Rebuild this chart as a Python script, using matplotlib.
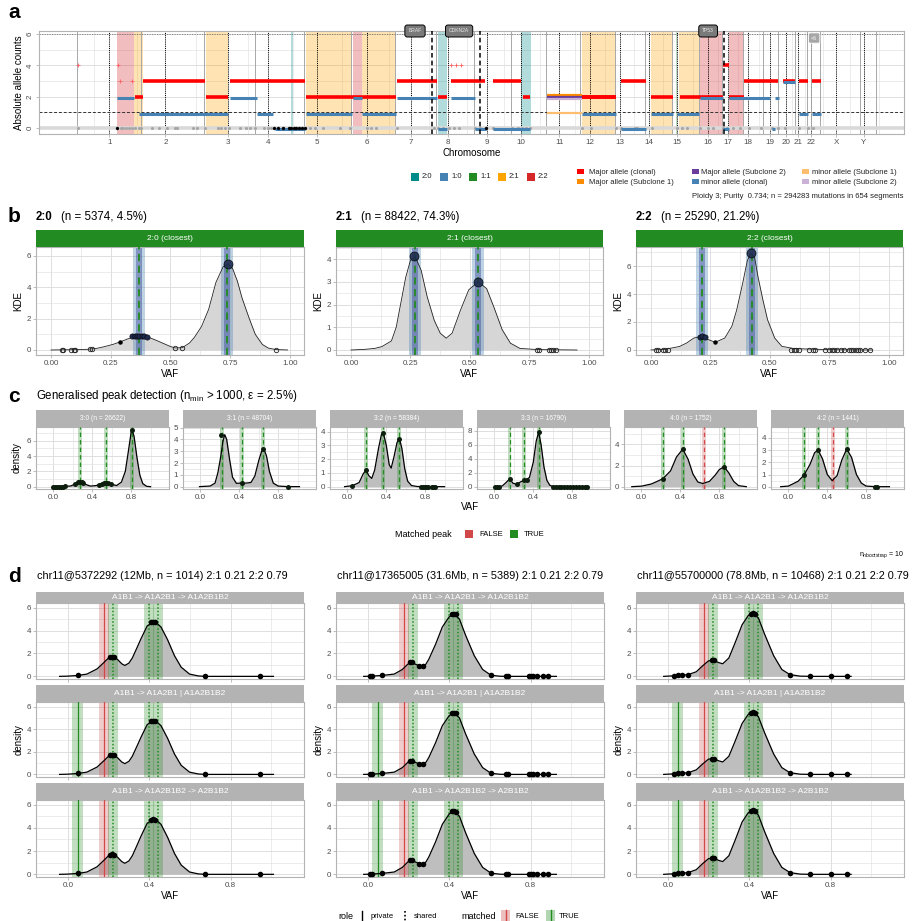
import numpy as np
import matplotlib
matplotlib.use('Agg')
import matplotlib.pyplot as plt
from matplotlib.patches import Rectangle
from matplotlib.lines import Line2D
from matplotlib.ticker import FixedLocator

plt.rcParams['font.family'] = ['Liberation Sans', 'DejaVu Sans']
plt.rcParams['mathtext.fontset'] = 'custom'
plt.rcParams['mathtext.rm'] = 'Liberation Sans'
plt.rcParams['mathtext.it'] = 'Liberation Sans:italic'

# ------------------------------------------------------------------ data: panel a
chrom_names = [str(i) for i in range(1, 23)] + ['X', 'Y']
chrom_len = [249.3, 243.2, 198.0, 191.2, 180.9, 171.1, 159.1, 146.4, 141.2, 135.5, 135.0, 133.9,
             115.2, 107.3, 102.5, 90.4, 81.2, 78.1, 59.1, 63.0, 48.1, 51.3, 155.3, 59.4]
centromere = [125.0, 93.3, 91.0, 50.4, 48.4, 61.0, 59.9, 45.6, 49.0, 40.2, 53.7, 35.8,
              17.9, 17.6, 19.0, 36.6, 24.0, 17.2, 26.5, 27.5, 13.2, 14.7, 60.6, 12.5]

major_start = [225, 256, 500, 593, 888, 1240, 1399, 1450, 1612, 1729, 1957, 2109, 2225, 2337, 2504, 2527, 2585, 2736, 2798, 2849]
major_end   = [256, 496, 585, 884, 1236, 1395, 1434, 1581, 1721, 1756, 2089, 2205, 2310, 2504, 2527, 2585, 2717, 2783, 2833, 2884]
major_cn    = [2, 3, 2, 3, 2, 3, 2, 3, 3, 2, 2, 3, 2, 2, 4, 2, 3, 3, 3, 3]

minor_start = [155, 240, 593, 698, 767, 888, 1070, 1105, 1240, 1399, 1450, 1543, 1612, 1957, 2109, 2225, 2326, 2415, 2504, 2527, 2694, 2705, 2736, 2798, 2849]
minor_end   = [221, 585, 698, 760, 884, 1066, 1105, 1236, 1395, 1434, 1543, 1585, 1756, 2089, 2205, 2310, 2411, 2504, 2527, 2686, 2705, 2721, 2783, 2833, 2884]
minor_cn    = [1.9, 0.9, 1.9, 0.9, -0.1, 0.9, 1.9, 0.9, 1.9, -0.1, 1.9, -0.1, -0.1, 0.9, -0.1, 0.9, 0.9, 1.9, -0.1, 1.9, -0.1, 1.9, 2.9, 0.9, 0.9]

subclone_seg = (1822, 1957)
subclone_labels = ['Major allele (Subclone 1)', 'Major allele (Subclone 2)', 'minor allele (Subclone 2)', 'minor allele (Subclone 1)']
subclone_cn = [2.07, 1.95, 1.82, 0.97]

kary_names = ['2:0', '1:0', '1:1', '2:1', '2:2']
kary_colors = ['#008B8B', '#4682B4', '#228B22', '#FFA500', '#D62728']
kary_seg_start = [155, 221, 500, 830, 888, 1070, 1105, 1399, 1721, 1957, 2225, 2320, 2333, 2411, 2527]
kary_seg_end   = [221, 256, 585, 837, 1066, 1105, 1236, 1434, 1760, 2089, 2310, 2326, 2411, 2504, 2585]
kary_seg_type  = ['2:2', '2:1', '2:1', '2:0', '2:1', '2:2', '2:1', '2:0', '2:0', '2:1', '2:1', '1:1', '2:1', '2:2', '2:2']

grey_mut_pos = [4, 170, 180, 190, 200, 212, 225, 240, 250, 290, 318, 349, 380, 388, 450, 465, 496, 545, 560, 575, 590,
                632, 655, 671, 690, 725, 740, 752, 798, 825, 903, 922, 953, 1019, 1058, 1125, 1140, 1160, 1240,
                1385, 1400, 1420, 1440, 1460, 1480, 1543, 1562, 1612, 1686, 1709, 1725, 1740, 1756, 1957, 1992,
                2089, 2109, 2163, 2171, 2229, 2326, 2345, 2364, 2415, 2445, 2465, 2504, 2519, 2543, 2570, 2605,
                2651, 2694, 2717, 2744, 2798, 2833, 2852]
black_mut_pos = [155, 765, 780, 800, 820, 830, 840, 850, 860, 872, 884, 1585]
red_dot_pos = [4, 160, 165, 215, 1450, 1470, 1490]
red_dot_cn = [4, 4, 3, 3, 4, 4, 4]

driver_genes = ['BRAF', 'CDKN2A', 'TP53']
driver_pos = [1374, 1561, 2507]
driver_label_pos = [1310, 1481, 2446]
other_label = ('<6', 2857, 5.75)

# ------------------------------------------------------------------ data: panel b
b_titles = ['2:0', '2:1', '2:2']
b_title_rest = ['(n = 5374, 4.5%)', '(n = 88422, 74.3%)', '(n = 25290, 21.2%)']
b_strips = ['2:0 (closest)', '2:1 (closest)', '2:2 (closest)']
b_ylims = [(-0.32, 6.57), (-0.22, 4.53), (-0.36, 7.36)]
b_yticks = [[0, 2, 4, 6], [0, 1, 2, 3, 4], [0, 2, 4, 6]]
b_curve_x = [
    [0.0, 0.05, 0.10, 0.15, 0.19, 0.22, 0.26, 0.29, 0.32, 0.35, 0.38, 0.41, 0.44, 0.47, 0.50, 0.52, 0.55, 0.58,
     0.60, 0.63, 0.66, 0.69, 0.72, 0.74, 0.76, 0.78, 0.80, 0.83, 0.855, 0.885, 0.91, 0.94, 0.99],
    [0.0, 0.06, 0.10, 0.13, 0.17, 0.19, 0.21, 0.23, 0.25, 0.27, 0.295, 0.32, 0.35, 0.375, 0.40, 0.425, 0.46, 0.495,
     0.535, 0.57, 0.60, 0.635, 0.67, 0.71, 0.78, 0.86, 0.95],
    [0.0, 0.06, 0.12, 0.15, 0.18, 0.21, 0.235, 0.27, 0.31, 0.34, 0.36, 0.385, 0.405, 0.42, 0.435, 0.45, 0.47, 0.49,
     0.52, 0.55, 0.60, 0.75, 0.93],
]
b_curve_y = [
    [0, 0.01, 0.02, 0.04, 0.1, 0.2, 0.36, 0.52, 0.7, 0.85, 0.88, 0.8, 0.62, 0.42, 0.22, 0.13, 0.15, 0.45,
     0.8, 1.5, 2.6, 4.3, 5.3, 5.5, 5.2, 4.4, 3.3, 2.0, 1.0, 0.35, 0.12, 0.03, 0.0],
    [0, 0.03, 0.07, 0.15, 0.4, 1.0, 2.1, 3.2, 3.95, 4.1, 3.5, 2.35, 1.3, 0.74, 0.52, 0.74, 1.75, 2.65,
     3.0, 2.7, 1.9, 0.9, 0.3, 0.07, 0.02, 0.01, 0.0],
    [0, 0.05, 0.25, 0.5, 0.85, 0.97, 0.78, 0.55, 0.85, 1.7, 2.85, 4.75, 6.4, 6.9, 6.65, 5.2, 3.6, 2.15,
     0.85, 0.26, 0.1, 0.02, 0.0],
]
b_peaks = [[0.367, 0.736], [0.27, 0.535], [0.213, 0.425]]
b_big_x = [[0.74], [0.265, 0.535], [0.42]]
b_big_y = [[5.5], [4.14, 3.0], [6.9]]
b_dark_x = [[0.34, 0.35, 0.36, 0.37, 0.38, 0.39, 0.40], [], [0.205, 0.215, 0.225]]
b_dark_y = [[0.87, 0.88, 0.88, 0.88, 0.88, 0.87, 0.85], [], [0.95, 0.97, 0.95]]
b_black_x = [[0.29], [], [0.27]]
b_black_y = [[0.5], [], [0.55]]
b_open_x = [[0.045, 0.05, 0.085, 0.095, 0.10, 0.165, 0.17, 0.52, 0.55, 0.94],
            [0.78, 0.79, 0.83, 0.84, 0.85, 0.86],
            [0.02, 0.03, 0.05, 0.06, 0.07, 0.59, 0.60, 0.61, 0.62, 0.665, 0.68, 0.69, 0.73, 0.75, 0.76, 0.77,
             0.78, 0.80, 0.81, 0.83, 0.84, 0.85, 0.86, 0.87, 0.88, 0.90, 0.92]]
b_open_y = [[0, 0, 0, 0, 0, 0.05, 0.05, 0.13, 0.15, 0.02], [0] * 6, [0] * 27]

# ------------------------------------------------------------------ data: panel c
c_strips = ['3:0 (n = 26622)', '3:1 (n = 48704)', '3:2 (n = 58384)', '3:3 (n = 16790)', '4:0 (n = 1752)', '4:2 (n = 1441)']
c_ylims = [(-0.3, 7.8), (-0.2, 5.05), (-0.17, 4.34), (-0.33, 8.5), (-0.22, 5.65), (-0.19, 4.9)]
c_yticks = [[0, 2, 4, 6], [0, 1, 2, 3, 4, 5], [0, 1, 2, 3, 4], [0, 2, 4, 6, 8], [0, 2, 4], [0, 1, 2, 3, 4]]
c_curve_x = [
    [0.0, 0.1, 0.18, 0.22, 0.27, 0.32, 0.38, 0.44, 0.50, 0.54, 0.59, 0.65, 0.70, 0.74, 0.77, 0.80, 0.81, 0.83,
     0.86, 0.89, 0.92, 0.96, 1.0],
    [-0.01, 0.10, 0.15, 0.18, 0.21, 0.23, 0.25, 0.27, 0.30, 0.33, 0.37, 0.42, 0.47, 0.52, 0.56, 0.60, 0.63, 0.655,
     0.68, 0.71, 0.75, 0.80, 0.90, 1.02],
    [-0.03, 0.05, 0.12, 0.16, 0.19, 0.22, 0.25, 0.28, 0.32, 0.35, 0.37, 0.40, 0.43, 0.45, 0.48, 0.51, 0.535,
     0.56, 0.59, 0.62, 0.66, 0.72, 1.0],
    [0.0, 0.05, 0.08, 0.12, 0.155, 0.19, 0.23, 0.27, 0.32, 0.36, 0.40, 0.43, 0.455, 0.48, 0.51, 0.54, 0.57, 0.60, 0.96],
    [-0.1, 0.0, 0.1, 0.15, 0.22, 0.30, 0.36, 0.425, 0.48, 0.53, 0.58, 0.63, 0.70, 0.76, 0.80, 0.85, 0.90, 0.95, 1.0, 1.08],
    [-0.08, 0.0, 0.1, 0.16, 0.22, 0.27, 0.305, 0.35, 0.40, 0.45, 0.50, 0.55, 0.60, 0.65, 0.70, 0.75, 0.80, 0.90, 1.04],
]
c_curve_y = [
    [0.0, 0.02, 0.1, 0.35, 0.6, 0.35, 0.08, 0.15, 0.4, 0.45, 0.35, 0.15, 0.6, 2.0, 4.5, 7.1, 7.35, 6.6,
     3.8, 1.5, 0.4, 0.05, 0.0],
    [0.0, 0.05, 0.3, 1.2, 2.6, 3.8, 4.4, 4.0, 2.3, 0.8, 0.28, 0.3, 0.3, 0.35, 0.9, 2.2, 3.0, 3.15,
     2.6, 1.3, 0.3, 0.05, 0.0, 0.0],
    [0.0, 0.07, 0.3, 0.9, 1.22, 0.8, 0.6, 1.2, 2.8, 3.8, 3.9, 3.0, 1.6, 1.35, 2.2, 3.2, 3.5,
     2.8, 1.3, 0.4, 0.08, 0.01, 0.0],
    [0.0, 0.02, 0.1, 0.6, 1.1, 0.5, 0.33, 0.7, 0.95, 1.3, 3.5, 6.5, 7.75, 6.0, 2.8, 0.9, 0.2, 0.05, 0.0],
    [0.0, 0.05, 0.25, 0.45, 0.75, 1.5, 2.8, 3.55, 2.6, 1.2, 0.45, 0.3, 0.5, 1.1, 1.6, 1.9, 1.3, 0.5, 0.1, 0.0],
    [0.0, 0.05, 0.45, 0.95, 1.8, 2.8, 3.0, 2.3, 1.0, 0.5, 0.9, 2.2, 3.1, 2.4, 1.0, 0.3, 0.05, 0.0, 0.0],
]
c_peak_pos = [[0.27, 0.54, 0.81], [0.22, 0.43, 0.645], [0.19, 0.365, 0.535], [0.155, 0.30, 0.455],
              [0.225, 0.43, 0.64, 0.85], [0.16, 0.305, 0.46, 0.605]]
c_peak_match = [[True, True, True], [True, True, True], [True, True, True], [True, True, True],
                [True, True, False, True], [True, True, False, True]]
c_dot_x = [
    [0.0, 0.02, 0.04, 0.06, 0.08, 0.10, 0.12, 0.22, 0.25, 0.27, 0.29, 0.30, 0.47, 0.50, 0.52, 0.54, 0.56, 0.59, 0.81],
    [0.21, 0.43, 0.645, 0.90],
    [0.05, 0.19, 0.365, 0.535, 0.76, 0.78, 0.80, 0.81, 0.83, 0.87, 0.88, 0.90],
    [0.01, 0.03, 0.05, 0.155, 0.23, 0.30, 0.34, 0.455, 0.60, 0.63, 0.66, 0.69, 0.72, 0.75, 0.78, 0.81, 0.84, 0.87, 0.90, 0.93, 0.95],
    [0.22, 0.425, 0.85],
    [0.16, 0.305, 0.60, 0.89, 0.91],
]
c_dot_y = [
    [0.0, 0.0, 0.01, 0.01, 0.02, 0.02, 0.03, 0.35, 0.55, 0.6, 0.55, 0.5, 0.2, 0.38, 0.42, 0.45, 0.42, 0.33, 7.35],
    [4.4, 0.3, 3.15, 0.0],
    [0.07, 1.22, 3.9, 3.5, 0, 0, 0, 0, 0, 0, 0, 0],
    [0, 0, 0.02, 1.1, 0.33, 0.9, 1.0, 7.75] + [0] * 13,
    [0.75, 3.55, 1.9],
    [0.95, 3.0, 3.1, 0.0, 0.0],
]

# ------------------------------------------------------------------ data: panel d
d_titles = ['chr11@5372292 (12Mb, n = 1014) 2:1 0.21 2:2 0.79',
            'chr11@17365005 (31.6Mb, n = 5389) 2:1 0.21 2:2 0.79',
            'chr11@55700000 (78.8Mb, n = 10468) 2:1 0.21 2:2 0.79']
d_strips = ['A1B1 -> A1A2B1 -> A1A2B1B2', 'A1B1 -> A1A2B1 | A1A2B1B2', 'A1B1 -> A1A2B1B2 -> A2B1B2']
d_curve_x = [
    [-0.04, 0.0, 0.05, 0.094, 0.144, 0.177, 0.20, 0.215, 0.243, 0.265, 0.28, 0.30, 0.317, 0.34, 0.36, 0.39,
     0.42, 0.44, 0.458, 0.49, 0.524, 0.557, 0.598, 0.64, 0.673, 0.82, 0.945, 1.01],
    [-0.02, 0.01, 0.07, 0.13, 0.17, 0.19, 0.205, 0.22, 0.235, 0.25, 0.267, 0.285, 0.30, 0.333, 0.366, 0.40,
     0.424, 0.45, 0.48, 0.523, 0.564, 0.605, 0.65, 0.688, 0.926],
    [-0.02, 0.03, 0.05, 0.07, 0.10, 0.14, 0.17, 0.20, 0.225, 0.25, 0.27, 0.30, 0.33, 0.365, 0.395, 0.42,
     0.445, 0.475, 0.52, 0.56, 0.60, 0.65, 0.70, 0.90],
]
d_curve_y = [
    [0, 0.02, 0.08, 0.2, 0.65, 1.2, 1.6, 1.72, 1.5, 1.1, 0.95, 1.15, 1.6, 2.5, 3.3, 4.4,
     4.75, 4.6, 4.3, 3.2, 1.8, 0.8, 0.2, 0.04, 0.0, 0, 0, 0],
    [0, 0.01, 0.08, 0.2, 0.6, 0.95, 1.2, 1.2, 1.05, 0.95, 0.9, 1.05, 1.5, 2.8, 4.3, 5.2,
     5.45, 5.0, 3.6, 1.8, 0.6, 0.1, 0.01, 0, 0],
    [0, 0.05, 0.08, 0.1, 0.15, 0.4, 0.9, 1.35, 1.4, 1.2, 1.1, 1.6, 2.9, 4.5, 5.3, 5.5,
     5.1, 3.7, 1.8, 0.6, 0.15, 0.02, 0, 0],
]
d_dot_x = [
    [0.05, 0.205, 0.215, 0.225, 0.41, 0.42, 0.43, 0.673, 0.945],
    [0.01, 0.02, 0.07, 0.205, 0.215, 0.25, 0.27, 0.415, 0.425, 0.435, 0.605, 0.68, 0.69, 0.79, 0.80, 0.81, 0.83, 0.86, 0.885],
    [0.03, 0.05, 0.07, 0.10, 0.215, 0.225, 0.41, 0.42, 0.43, 0.60, 0.70, 0.80, 0.88],
]
d_dot_y = [
    [0.08, 1.7, 1.72, 1.7, 4.72, 4.75, 4.7, 0, 0],
    [0, 0, 0.08, 1.22, 1.22, 0.93, 0.88, 5.45, 5.45, 5.4, 0.1, 0, 0, 0, 0, 0, 0, 0, 0],
    [0.05, 0.08, 0.1, 0.15, 1.4, 1.4, 5.45, 5.5, 5.45, 0.15, 0, 0, 0],
]
d_peak_pos = [[0.177, 0.224, 0.40, 0.445], [0.048, 0.177, 0.224, 0.40, 0.445], [0.048, 0.177, 0.224, 0.40, 0.445]]
d_peak_match = [[False, True, True, True], [True, False, True, True, True], [True, False, True, True, True]]
d_peak_role = [['private', 'shared', 'shared', 'shared'],
               ['private', 'private', 'shared', 'shared', 'shared'],
               ['private', 'private', 'shared', 'shared', 'shared']]

# ------------------------------------------------------------------ helpers
W, H = 922, 921
fig = plt.figure(figsize=(W / 100, H / 100), dpi=100)
BORDER = '#B3B3B3'
GRID = '#DEDEDE'
TXT = '#4D4D4D'
RED = '#D04848'
GREEN = '#228B22'


def add_ax(x0, y0, x1, y1):
    return fig.add_axes([x0 / W, 1 - y1 / H, (x1 - x0) / W, (y1 - y0) / H])


def ftext(x, y, s, **kw):
    kw.setdefault('va', 'center')
    return fig.text(x / W, 1 - y / H, s, **kw)


def frect(x0, y0, x1, y1, **kw):
    fig.add_artist(Rectangle((x0 / W, 1 - y1 / H), (x1 - x0) / W, (y1 - y0) / H,
                             transform=fig.transFigure, **kw))


def fline(xs, ys, **kw):
    fig.add_artist(Line2D([x / W for x in xs], [1 - y / H for y in ys], transform=fig.transFigure, **kw))


def theme(ax, xmaj, xmin, ymaj, ymin, xlab=None, ylab=None, fs=5.8, show_x=True):
    ax.set_facecolor('white')
    for s in ax.spines.values():
        s.set_color(BORDER)
        s.set_linewidth(0.8)
    ax.xaxis.set_major_locator(FixedLocator(xmaj))
    ax.xaxis.set_minor_locator(FixedLocator(xmin))
    ax.yaxis.set_major_locator(FixedLocator(ymaj))
    ax.yaxis.set_minor_locator(FixedLocator(ymin))
    if xlab is not None:
        ax.set_xticklabels(xlab)
    if ylab is not None:
        ax.set_yticklabels(ylab)
    ax.tick_params(which='major', colors=BORDER, labelcolor=TXT, labelsize=fs, length=2.2, width=0.6, pad=1.5)
    ax.tick_params(which='minor', length=0)
    ax.grid(which='major', color=GRID, lw=0.7)
    ax.grid(which='minor', color=GRID, lw=0.4)
    ax.set_axisbelow(True)
    if not show_x:
        ax.tick_params(axis='x', labelbottom=False)


def strip(x0, y0, x1, y1, text, color='#B3B3B3', fs=6):
    s = add_ax(x0, y0, x1, y1)
    s.set_xticks([])
    s.set_yticks([])
    s.set_facecolor(color)
    for sp in s.spines.values():
        sp.set_visible(False)
    s.text(0.5, 0.5, text, color='white', fontsize=fs, ha='center', va='center', transform=s.transAxes)


# ------------------------------------------------------------------ panel a
axA = add_ax(39, 31, 904, 134)
chrom_start = np.concatenate([[0.0], np.cumsum(chrom_len)[:-1]])
genome_end = float(np.sum(chrom_len))
cent_pos = chrom_start + np.array(centromere)
axA.set_xlim(-147, 3205)
axA.set_ylim(-0.4, 6.2)
xminor = list((cent_pos[:-1] + cent_pos[1:]) / 2) + [cent_pos[0] - 60, cent_pos[-1] + 60]
theme(axA, list(cent_pos), xminor, [0, 2, 4, 6], [1, 3, 5], xlab=chrom_names, fs=5.8)
axA.set_yticklabels(['0', '2', '4', '6'], rotation=90, va='center')
axA.set_ylabel('Absolute allele counts', fontsize=7, labelpad=2)
axA.set_xlabel('Chromosome', fontsize=7, labelpad=1.5)

kcol = dict(zip(kary_names, kary_colors))
for s, e, t in zip(kary_seg_start, kary_seg_end, kary_seg_type):
    axA.axvspan(s, e, color=kcol[t], alpha=0.3, lw=0, zorder=1)
for cs in list(chrom_start) + [genome_end]:
    axA.axvline(cs, color='#A8A8A8', lw=0.7, zorder=2)
for cp in cent_pos:
    axA.axvline(cp, color='black', lw=0.7, ls=(0, (1, 1.2)), zorder=2)
axA.axhline(1, color='#333333', lw=0.7, ls=(0, (3, 2)), zorder=2)
axA.axhline(6, color='#777777', lw=0.6, ls=(0, (1.5, 1.5)), zorder=2)
axA.axhline(0, color='#D9D9D9', lw=2.6, zorder=2)
axA.plot(grey_mut_pos, [0] * len(grey_mut_pos), 'o', color='#A6A6A6', ms=2.2, mew=0, zorder=3)
axA.plot(black_mut_pos, [0] * len(black_mut_pos), 'o', color='black', ms=2.4, mew=0, zorder=6)
axA.plot(red_dot_pos, red_dot_cn, '+', color='#FF6060', ms=2.2, mew=0.6, zorder=3)
axA.hlines(major_cn, major_start, major_end, colors='#FF0000', lw=2.6, zorder=4)
axA.hlines(minor_cn, minor_start, minor_end, colors='#4682B4', lw=2.2, zorder=5)
sub_cols = ['#FF8C00', '#6A3D9A', '#CAB2D6', '#FDBF6F']
for cn, col in zip(subclone_cn, sub_cols):
    axA.hlines(cn, subclone_seg[0], subclone_seg[1], colors=col, lw=1.6, zorder=5)
axA.hlines(2.0, 1957, 2089, colors='#FF0000', lw=2.6, zorder=6)
for g, p, lp in zip(driver_genes, driver_pos, driver_label_pos):
    axA.axvline(p, color='black', lw=1.1, ls=(0, (3, 2)), zorder=7)
    axA.text(lp, 6.2, g, fontsize=3.6, color='#E8E8E8', ha='center', va='center', zorder=9, clip_on=False,
             bbox=dict(boxstyle='round,pad=0.7,rounding_size=0.5', fc='#7A7A7A', ec='black', lw=0.7))
axA.plot([other_label[1] - 12, other_label[1] - 12], [0, other_label[2]], color='#AAAAAA', lw=0.6, zorder=3)
axA.text(other_label[1], other_label[2], other_label[0], fontsize=3.8, color='white', ha='center', va='center',
         zorder=9, bbox=dict(boxstyle='round,pad=0.5,rounding_size=0.3', fc='#A6A6A6', ec='white', lw=0.6))
ftext(8, 13, 'a', fontsize=15, fontweight='bold')

# legends of panel a
for i, (nm, col) in enumerate(zip(kary_names, kary_colors)):
    x = 411 + 29 * i
    frect(x, 173, x + 8, 181, fc=col, ec='none')
    ftext(x + 11, 177, nm, fontsize=5.5, color='#222222')
leg_items = [('Major allele (clonal)', '#FF0000'), ('Major allele (Subclone 1)', '#FF8C00'),
             ('Major allele (Subclone 2)', '#6A3D9A'), ('minor allele (clonal)', '#4682B4'),
             ('minor allele (Subclone 1)', '#FDBF6F'), ('minor allele (Subclone 2)', '#CAB2D6')]
col_sq = [577, 692, 802]
col_tx = [589, 701, 812]
for i, (nm, col) in enumerate(leg_items):
    c, r = i // 2, i % 2
    y = 172 + 10 * r
    frect(col_sq[c], y - 2.5, col_sq[c] + 7, y + 2.5, fc=col, ec='none')
    ftext(col_tx[c], y, nm, fontsize=5.5, color='#222222')
ftext(903, 197, 'Ploidy 3; Purity  0.734; n = 294283 mutations in 654 segments', fontsize=5.5,
      color='#222222', ha='right')

# ------------------------------------------------------------------ panel b
b_x = [(36, 304), (336, 603), (636, 903)]
for i in range(3):
    x0, x1 = b_x[i]
    ax = add_ax(x0, 247, x1, 355)
    ax.set_xlim(-0.063, 1.059)
    ax.set_ylim(*b_ylims[i])
    yt = b_yticks[i]
    step = yt[1] - yt[0]
    yminor = [v + step / 2 for v in yt] + [yt[0] - step / 2]
    theme(ax, [0, 0.25, 0.5, 0.75, 1.0], [0.125, 0.375, 0.625, 0.875], yt, yminor,
          xlab=['0.00', '0.25', '0.50', '0.75', '1.00'], ylab=[str(v) for v in yt])
    ax.fill_between(b_curve_x[i], b_curve_y[i], color='#D6D6D6', lw=0, zorder=1.5)
    for p in b_peaks[i]:
        ax.axvspan(p - 0.025, p + 0.025, color='#4682B4', alpha=0.35, lw=0, zorder=2)
        ax.axvspan(p - 0.012, p + 0.012, color='#3B4A9A', alpha=0.45, lw=0, zorder=2)
        ax.axvline(p, color=GREEN, lw=1.3, ls=(0, (4, 2.5)), zorder=3)
    ax.plot(b_curve_x[i], b_curve_y[i], color='#222222', lw=0.6, zorder=4)
    ax.plot(b_open_x[i], b_open_y[i], 'o', mfc='none', mec='#222222', ms=3.2, mew=0.6, zorder=5)
    ax.plot(b_black_x[i], b_black_y[i], 'o', color='black', ms=3.2, mew=0, zorder=5)
    ax.plot(b_dark_x[i], b_dark_y[i], 'o', color='#1E2D4F', ms=3.8, mew=0.4, mec='black', zorder=5)
    ax.plot(b_big_x[i], b_big_y[i], 'o', color='#1E2D4F', ms=6.5, mew=0.5, mec='black', alpha=0.9, zorder=6)
    ax.set_xlabel('VAF', fontsize=7, labelpad=1.5)
    ax.set_ylabel('KDE', fontsize=7, labelpad=2)
    strip(x0, 230, x1, 247, b_strips[i], color='#228B22', fs=6)
    ftext(x0, 217, b_titles[i], fontsize=8.3, fontweight='bold')
    ftext(x0 + 25, 217, b_title_rest[i], fontsize=8.3)
ftext(8, 217, 'b', fontsize=15, fontweight='bold')

# ------------------------------------------------------------------ panel c
c_x = [(36, 169), (183, 316), (330, 463), (477, 610), (624, 757), (771, 904)]
for i in range(6):
    x0, x1 = c_x[i]
    ax = add_ax(x0, 427, x1, 489)
    ax.set_xlim(-0.18, 1.19)
    ax.set_ylim(*c_ylims[i])
    yt = c_yticks[i]
    step = yt[1] - yt[0]
    yminor = [v + step / 2 for v in yt]
    theme(ax, [0, 0.4, 0.8], [-0.2, 0.2, 0.6, 1.0], yt, yminor, xlab=['0.0', '0.4', '0.8'],
          ylab=[str(v) for v in yt])
    ax.fill_between(c_curve_x[i], c_curve_y[i], color='#BEBEBE', lw=0, zorder=1.5)
    for p, m in zip(c_peak_pos[i], c_peak_match[i]):
        col = GREEN if m else RED
        ax.axvspan(p - 0.02, p + 0.02, color=col, alpha=0.28, lw=0, zorder=2)
        ax.axvline(p, color=col, lw=0.9, ls=(0, (3.5, 2.5)), zorder=3)
    ax.plot(c_curve_x[i], c_curve_y[i], color='black', lw=0.9, zorder=4)
    ax.plot(c_dot_x[i], c_dot_y[i], 'o', color='#0E1E0E', ms=3.6, mew=0, zorder=5)
    strip(x0, 410, x1, 427, c_strips[i], fs=4.8)
ftext(8, 396, 'c', fontsize=15, fontweight='bold')
ftext(36, 396, r'Generalised peak detection (n$_{\mathrm{min}}$ > 1000, ε = 2.5%)', fontsize=8.3)
ftext(17, 458, 'density', fontsize=7, rotation=90, ha='center')
ftext(470, 507, 'VAF', fontsize=7, ha='center')
ftext(395, 534, 'Matched peak', fontsize=6.5)
frect(465, 530, 473, 538, fc=RED, ec='none')
ftext(479, 534, 'FALSE', fontsize=5.5)
frect(510, 530, 518, 538, fc=GREEN, ec='none')
ftext(524, 534, 'TRUE', fontsize=5.5)
ftext(904, 555, r'n$_{\mathrm{nbootstrap}}$ = 10', fontsize=5, ha='right')

# ------------------------------------------------------------------ panel d
d_x = [(36, 304), (336, 604), (636, 904)]
d_rows = [(592, 603, 679), (685, 702, 777), (783, 800, 877)]
for c in range(3):
    x0, x1 = d_x[c]
    for r in range(3):
        ys, yp0, yp1 = d_rows[r]
        ax = add_ax(x0, yp0, x1, yp1)
        ax.set_xlim(-0.156, 1.16)
        ax.set_ylim(-0.23, 6.4)
        theme(ax, [0, 0.4, 0.8], [-0.2, 0.2, 0.6, 1.0], [0, 2, 4, 6], [1, 3, 5],
              xlab=['0.0', '0.4', '0.8'], ylab=['0', '2', '4', '6'], show_x=(r == 2))
        ax.fill_between(d_curve_x[c], d_curve_y[c], color='#BEBEBE', lw=0, zorder=1.5)
        for p, m, role in zip(d_peak_pos[r], d_peak_match[r], d_peak_role[r]):
            col = GREEN if m else RED
            ax.axvspan(p - 0.025, p + 0.025, color=col, alpha=0.28, lw=0, zorder=2)
            ls = '-' if role == 'private' else (0, (1, 1.3))
            ax.axvline(p, color=col, lw=0.9 if role == 'private' else 1.1, ls=ls, zorder=3)
        ax.plot(d_curve_x[c], d_curve_y[c], color='black', lw=0.9, zorder=4)
        ax.plot(d_dot_x[c], d_dot_y[c], 'o', color='black', ms=4.0, mew=0, zorder=5)
        strip(x0, ys, x1, yp0, d_strips[r], fs=6)
        if r == 1:
            ax.set_ylabel('density', fontsize=7, labelpad=2)
        if r == 2:
            ax.set_xlabel('VAF', fontsize=7, labelpad=1.5)
    ftext(x0 + 1, 576, d_titles[c], fontsize=7.8)
ftext(8, 576, 'd', fontsize=15, fontweight='bold')

# bottom legend
ftext(338, 916, 'role', fontsize=6.5)
fline([362, 362], [911, 921], color='black', lw=1.0)
ftext(371, 916, 'private', fontsize=5.5)
fline([405, 405], [911, 921], color='black', lw=1.2, ls=(0, (1, 1.3)))
ftext(414, 916, 'shared', fontsize=5.5)
ftext(461, 916, 'matched', fontsize=6.5)
frect(501, 910, 510, 922, fc=RED, alpha=0.35, ec='none')
fline([505.5, 505.5], [910, 922], color=RED, lw=1.0)
ftext(515, 916, 'FALSE', fontsize=5.5)
frect(546, 910, 555, 922, fc=GREEN, alpha=0.35, ec='none')
fline([550.5, 550.5], [910, 922], color=GREEN, lw=1.0)
ftext(559, 916, 'TRUE', fontsize=5.5)

fig.savefig('out.png', dpi=100, facecolor='white')
